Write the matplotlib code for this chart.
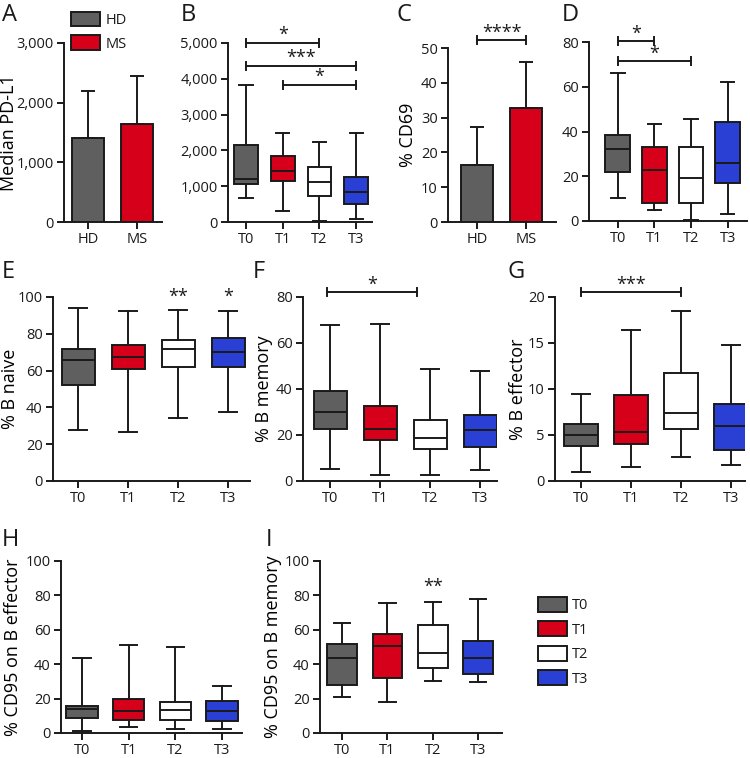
import matplotlib
matplotlib.use('Agg')
import matplotlib.pyplot as plt
from matplotlib.patches import Patch

plt.rcParams['font.family'] = ['Open Sans', 'DejaVu Sans']
plt.rcParams['text.color'] = '#1a1a1a'
plt.rcParams['xtick.color'] = '#1a1a1a'
plt.rcParams['ytick.color'] = '#1a1a1a'

# ---------------- data ----------------
groups = ['HD', 'MS']
timepoints = ['T0', 'T1', 'T2', 'T3']
group_colors = ['#5f5f5f', '#d7001b']
time_colors = ['#5f5f5f', '#d7001b', '#ffffff', '#2a3fd3']

# A: median PD-L1 (bar + upper error)
pdl1_mean = [1410, 1650]
pdl1_err_top = [2200, 2440]

# B: median PD-L1 over time (box plots)
pdl1_whislo = [670, 317, 28, 93]
pdl1_q1 = [1052, 1155, 736, 503]
pdl1_med = [1210, 1434, 1117, 829]
pdl1_q3 = [2151, 1844, 1527, 1248]
pdl1_whishi = [3836, 2477, 2235, 2477]

# C: % CD69 (bar + upper error)
cd69_mean = [16.4, 32.8]
cd69_err_top = [27.3, 45.9]

# D: % CD69 over time
cd69_whislo = [10.2, 5.1, 0.4, 3.3]
cd69_q1 = [21.8, 7.9, 7.9, 17.0]
cd69_med = [32.3, 23.0, 19.4, 25.9]
cd69_q3 = [38.6, 33.0, 33.0, 44.1]
cd69_whishi = [66.1, 43.2, 45.6, 62.2]

# E: % B naive
naive_whislo = [27.6, 26.7, 34.4, 37.5]
naive_q1 = [52.4, 60.9, 62.0, 62.0]
naive_med = [65.8, 67.6, 71.5, 70.0]
naive_q3 = [71.5, 74.0, 76.5, 77.5]
naive_whishi = [93.8, 92.5, 92.9, 92.5]

# F: % B memory
memory_whislo = [5.1, 2.8, 2.5, 4.7]
memory_q1 = [22.6, 17.9, 14.0, 15.0]
memory_med = [30.0, 22.5, 18.8, 22.0]
memory_q3 = [39.0, 32.6, 26.5, 28.6]
memory_whishi = [67.7, 68.2, 48.9, 48.0]

# G: % B effector
effector_whislo = [0.98, 1.53, 2.6, 1.7]
effector_q1 = [3.8, 4.0, 5.6, 3.4]
effector_med = [4.98, 5.3, 7.4, 5.96]
effector_q3 = [6.15, 9.4, 11.7, 8.4]
effector_whishi = [9.5, 16.4, 18.5, 14.8]

# H: % CD95 on B effector
cd95eff_whislo = [1.4, 3.3, 2.3, 2.1]
cd95eff_q1 = [8.5, 7.7, 7.4, 7.2]
cd95eff_med = [14.1, 12.6, 13.2, 12.8]
cd95eff_q3 = [15.9, 19.9, 18.0, 18.6]
cd95eff_whishi = [43.5, 51.1, 50.1, 27.5]

# I: % CD95 on B memory
cd95mem_whislo = [21.1, 17.8, 30.4, 29.8]
cd95mem_q1 = [27.7, 32.1, 37.9, 34.2]
cd95mem_med = [43.7, 50.5, 46.6, 43.5]
cd95mem_q3 = [52.0, 57.8, 63.0, 53.2]
cd95mem_whishi = [64.2, 75.6, 76.0, 77.8]

# ---------------- figure ----------------
W, H = 750, 758
fig = plt.figure(figsize=(W / 100, H / 100), dpi=100)

TICK_FS = 10.5
LABEL_FS = 13
STAR_FS = 13
LW = 1.4
EDGE = '#1a1a1a'


def add_axes(l, t, r, b):
    return fig.add_axes([l / W, 1 - b / H, (r - l) / W, (b - t) / H])


def style(ax, ylim, yticks, ytlabels, xlim, xlabels, ylabel=None, label_right_px=None, ax_px=None):
    ax.set_ylim(*ylim)
    ax.set_xlim(*xlim)
    ax.set_yticks(yticks)
    ax.set_yticklabels(ytlabels, fontsize=TICK_FS)
    ax.set_xticks(range(len(xlabels)))
    ax.set_xticklabels(xlabels, fontsize=TICK_FS)
    for s in ['top', 'right']:
        ax.spines[s].set_visible(False)
    for s in ['left', 'bottom']:
        ax.spines[s].set_linewidth(LW)
        ax.spines[s].set_color(EDGE)
    ax.tick_params(axis='both', width=LW, length=5, pad=2.5)
    ax.patch.set_alpha(0)
    if ylabel:
        ax.set_ylabel(ylabel, fontsize=LABEL_FS)
        l, w = ax_px
        ax.yaxis.set_label_coords((label_right_px - l) / w, 0.5)


def boxes(ax, whislo, q1, med, q3, whishi, width):
    stats = []
    for i in range(len(med)):
        stats.append(dict(med=med[i], q1=q1[i], q3=q3[i], whislo=whislo[i],
                          whishi=whishi[i], fliers=[]))
    bp = ax.bxp(stats, positions=range(len(med)), widths=width, patch_artist=True,
                showfliers=False, capwidths=width * 0.55,
                boxprops=dict(linewidth=LW, edgecolor=EDGE),
                whiskerprops=dict(linewidth=LW, color=EDGE),
                capprops=dict(linewidth=LW, color=EDGE),
                medianprops=dict(linewidth=LW, color=EDGE))
    for patch, c in zip(bp['boxes'], time_colors):
        patch.set_facecolor(c)
    return bp


def bars(ax, mean, err_top, width):
    ax.bar(range(len(mean)), mean, width=width, color=group_colors,
           edgecolor=EDGE, linewidth=LW, zorder=2)
    up = [e - m for e, m in zip(err_top, mean)]
    ax.errorbar(range(len(mean)), mean, yerr=[[0] * len(mean), up], fmt='none',
                ecolor=EDGE, elinewidth=LW, capsize=5, capthick=LW, zorder=1)


def sigbar(ax, x1, x2, y, text, ax_h_px):
    y0, y1 = ax.get_ylim()
    d = 4 * (y1 - y0) / ax_h_px
    ax.plot([x1, x2], [y, y], color=EDGE, lw=LW, clip_on=False)
    ax.plot([x1, x1], [y - d, y + d], color=EDGE, lw=LW, clip_on=False)
    ax.plot([x2, x2], [y - d, y + d], color=EDGE, lw=LW, clip_on=False)
    ax.text((x1 + x2) / 2, y - d * 0.3, text, ha='center', va='bottom',
            fontsize=STAR_FS, clip_on=False)


def panel_letter(x, y, s):
    fig.text(x / W, 1 - y / H, s, fontsize=17, ha='left', va='top')


# A
axA = add_axes(64, 43, 162, 222)
bars(axA, pdl1_mean, pdl1_err_top, 0.65)
style(axA, (0, 3000), [0, 1000, 2000, 3000], ['0', '1,000', '2,000', '3,000'],
      (-0.49, 1.51), groups, 'Median PD-L1', 17.5, (64, 98))
fig.legend([Patch(facecolor=c, edgecolor=EDGE, linewidth=LW) for c in group_colors], groups,
           loc='upper left', bbox_to_anchor=(71 / W, 1 - 12 / H), frameon=False,
           fontsize=TICK_FS, handlelength=2.0, handleheight=1.15, labelspacing=0.5,
           handletextpad=0.35, borderpad=0, borderaxespad=0)

# B
axB = add_axes(228, 43, 372, 222)
boxes(axB, pdl1_whislo, pdl1_q1, pdl1_med, pdl1_q3, pdl1_whishi, 0.65)
style(axB, (0, 5000), [0, 1000, 2000, 3000, 4000, 5000],
      ['0', '1,000', '2,000', '3,000', '4,000', '5,000'], (-0.49, 3.43), timepoints)
sigbar(axB, 0, 2, 5000, '*', 179)
sigbar(axB, 0, 3, 4360, '***', 179)
sigbar(axB, 1, 3, 3836, '*', 179)

# C
axC = add_axes(448, 48, 556, 222)
bars(axC, cd69_mean, cd69_err_top, 0.65)
style(axC, (0, 50), [0, 10, 20, 30, 40, 50], ['0', '10', '20', '30', '40', '50'],
      (-0.59, 1.61), groups, '% CD69', 417, (448, 108))
sigbar(axC, 0, 1, 52.2, '****', 174)

# D
axD = add_axes(589, 42, 747, 221)
boxes(axD, cd69_whislo, cd69_q1, cd69_med, cd69_q3, cd69_whishi, 0.68)
style(axD, (0, 80), [0, 20, 40, 60, 80], ['0', '20', '40', '60', '80'],
      (-0.79, 3.53), timepoints)
sigbar(axD, 0, 1, 80.3, '*', 179)
sigbar(axD, 0, 2, 71.3, '*', 179)

# E
axE = add_axes(53, 297, 250, 481)
boxes(axE, naive_whislo, naive_q1, naive_med, naive_q3, naive_whishi, 0.66)
style(axE, (0, 100), [0, 20, 40, 60, 80, 100], ['0', '20', '40', '60', '80', '100'],
      (-0.5, 3.44), timepoints, '% B naive', 19, (53, 197))
axE.text(2, 95, '**', ha='center', va='bottom', fontsize=STAR_FS, clip_on=False)
axE.text(3, 95, '*', ha='center', va='bottom', fontsize=STAR_FS, clip_on=False)

# F
axF = add_axes(303, 297, 497, 481)
boxes(axF, memory_whislo, memory_q1, memory_med, memory_q3, memory_whishi, 0.66)
style(axF, (0, 80), [0, 20, 40, 60, 80], ['0', '20', '40', '60', '80'],
      (-0.54, 3.34), timepoints, '% B memory', 273, (303, 194))
sigbar(axF, -0.06, 1.74, 82, '*', 184)

# G
axG = add_axes(555, 297, 745, 481)
boxes(axG, effector_whislo, effector_q1, effector_med, effector_q3, effector_whishi, 0.68)
style(axG, (0, 20), [0, 5, 10, 15, 20], ['0', '5', '10', '15', '20'],
      (-0.52, 3.28), timepoints, '% B effector', 527, (555, 190))
sigbar(axG, 0, 2, 20.5, '***', 184)

# H
axH = add_axes(61, 561, 242, 733)
boxes(axH, cd95eff_whislo, cd95eff_q1, cd95eff_med, cd95eff_q3, cd95eff_whishi, 0.67)
style(axH, (0, 100), [0, 20, 40, 60, 80, 100], ['0', '20', '40', '60', '80', '100'],
      (-0.45, 3.43), timepoints, '% CD95 on B effector', 22, (61, 181))

# I
axI = add_axes(320, 561, 502, 733)
boxes(axI, cd95mem_whislo, cd95mem_q1, cd95mem_med, cd95mem_q3, cd95mem_whishi, 0.66)
style(axI, (0, 100), [0, 20, 40, 60, 80, 100], ['0', '20', '40', '60', '80', '100'],
      (-0.49, 3.53), timepoints, '% CD95 on B memory', 282, (320, 182))
axI.text(2, 79.5, '**', ha='center', va='bottom', fontsize=STAR_FS, clip_on=False)

# legend T0..T3
fig.legend([Patch(facecolor=c, edgecolor=EDGE, linewidth=LW) for c in time_colors], timepoints,
           loc='upper left', bbox_to_anchor=(538 / W, 1 - 597 / H), frameon=False,
           fontsize=TICK_FS, handlelength=2.0, handleheight=1.2, labelspacing=0.55,
           handletextpad=0.35, borderpad=0, borderaxespad=0)

# panel letters
panel_letter(2, 3, 'A')
panel_letter(181, 3, 'B')
panel_letter(396, 3, 'C')
panel_letter(562, 3, 'D')
panel_letter(2, 260, 'E')
panel_letter(253, 260, 'F')
panel_letter(507, 260, 'G')
panel_letter(2, 528, 'H')
panel_letter(266, 528, 'I')

fig.savefig('out.png', dpi=100)
